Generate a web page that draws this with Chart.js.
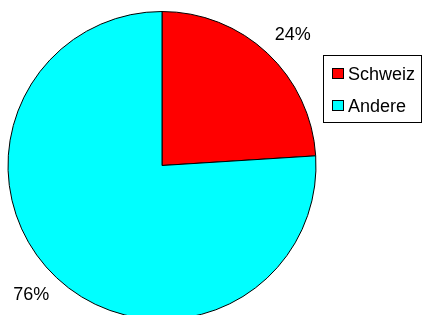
<!DOCTYPE html>
<html><head><meta charset="utf-8">
<script src="https://cdn.jsdelivr.net/npm/chart.js@4"></script>
<style>html,body{margin:0;padding:0;overflow:hidden;background:#fff;width:423px;height:315px}
#wrap{width:423px;height:325px;position:relative}</style>
</head><body>
<div id="wrap"><canvas id="c" width="423" height="325"></canvas></div>
<script>
const categories = ["Schweiz", "Andere"];
const values = [24, 76];
const pctLabels = ["24%", "76%"];
const colors = ["#ff0000", "#00ffff"];

const FONT = '"Liberation Sans", Arial, sans-serif';

const overlay = {
  id: 'overlay',
  afterDraw(chart) {
    const ctx = chart.ctx;
    const meta = chart.getDatasetMeta(0);
    ctx.save();
    ctx.fillStyle = '#000';
    ctx.font = '18px ' + FONT;
    ctx.textAlign = 'center';
    ctx.textBaseline = 'middle';
    meta.data.forEach((arc, i) => {
      const p = arc.getProps(['x','y','startAngle','endAngle','outerRadius'], true);
      const mid = (p.startAngle + p.endAngle) / 2;
      const r = p.outerRadius + 12;
      const ax = p.x + Math.cos(mid) * r, ay = p.y + Math.sin(mid) * r;
      const w = ctx.measureText(pctLabels[i]).width;
      const cx = ax + Math.sign(Math.cos(mid)) * (w / 2 - 1);
      const cy = ay + Math.sign(Math.sin(mid)) * 9;
      ctx.fillText(pctLabels[i], cx, cy);
    });
    // legend box
    const bx = 323.5, by = 55.5, bw = 98, bh = 67;
    ctx.strokeStyle = '#000';
    ctx.lineWidth = 1;
    ctx.strokeRect(bx, by, bw, bh);
    ctx.font = '18px ' + FONT;
    ctx.textAlign = 'left';
    categories.forEach((c, i) => {
      const cy = 74 + i * 32;
      ctx.fillStyle = colors[i];
      ctx.fillRect(332, cy - 6, 12, 11);
      ctx.strokeRect(332.5, cy - 5.5, 11, 10);
      ctx.fillStyle = '#000';
      ctx.fillText(c, 348, cy + 1);
    });
    ctx.restore();
  }
};

new Chart(document.getElementById('c'), {
  type: 'pie',
  data: {
    labels: categories,
    datasets: [{
      data: values,
      backgroundColor: colors,
      borderColor: '#000',
      borderWidth: 1
    }]
  },
  options: {
    responsive: false,
    animation: false,
    layout: { padding: { left: 7.5, right: 106.5, top: 11, bottom: 5 } },
    plugins: { legend: { display: false }, tooltip: { enabled: false } }
  },
  plugins: [overlay]
});
</script>
</body></html>
